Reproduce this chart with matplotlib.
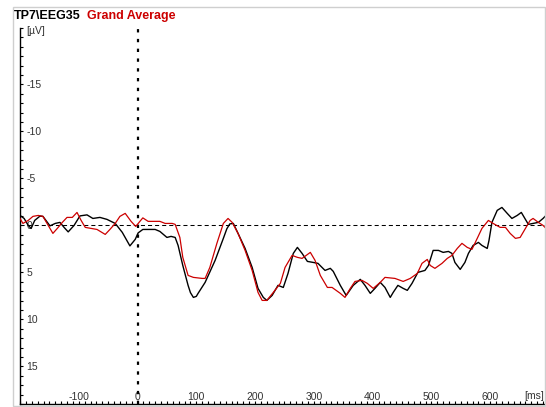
import matplotlib
matplotlib.use("Agg")
import matplotlib.pyplot as plt
from matplotlib.patches import Rectangle
from matplotlib.ticker import MultipleLocator, FixedLocator

plt.rcParams["font.family"] = ["Liberation Sans", "DejaVu Sans"]
plt.rcParams["axes.unicode_minus"] = False

# ==========================================================
# Datos (ms, µV)
# ==========================================================

channel = "TP7\\EEG35"
condition = "Grand Average"

black_ms = [-200, -193, -186, -181, -175, -166, -161, -149, -140, -132, -125, -118,
            -108, -98, -86, -76, -64, -52, -38, -26, -13, -4, 1, 9, 30, 38, 50, 57,
            64, 69, 77, 86, 90, 95, 100, 103, 115, 132, 146, 152, 157, 163, 171, 183,
            195, 205, 214, 220, 229, 239, 248, 256, 265, 272, 280, 289, 299, 307,
            319, 328, 333, 345, 355, 367, 379, 387, 396, 404, 413, 421, 430, 435,
            443, 452, 459, 467, 477, 489, 495, 503, 512, 520, 529, 535, 540, 549,
            557, 563, 571, 580, 586, 595, 598, 603, 612, 620, 629, 637, 646, 653,
            658, 665, 673, 682, 690, 695]
black_uv = [-1.06, -0.74, 0.0, 0.32, -0.53, -0.99, -0.96, 0.05, -0.21, -0.32, 0.21, 0.69,
            0.0, -1.01, -1.12, -0.74, -0.85, -0.64, -0.21, 0.74, 2.18, 1.49, 0.80, 0.43,
            0.43, 0.64, 1.28, 1.17, 1.28, 2.13, 4.26, 6.38, 7.15, 7.66, 7.55, 7.23,
            6.06, 3.72, 1.38, 0.35, -0.16, -0.21, 0.85, 2.45, 4.47, 6.70, 7.66, 7.98,
            7.45, 6.38, 6.60, 5.11, 2.98, 2.34, 2.98, 3.83, 3.94, 4.04, 4.79, 4.57,
            4.89, 6.38, 7.45, 6.38, 5.74, 6.38, 7.23, 6.70, 6.06, 6.60, 7.66, 7.13,
            6.38, 6.70, 6.91, 6.17, 5.00, 4.79, 4.26, 2.66, 2.66, 2.87, 2.77, 2.98,
            3.94, 4.68, 3.94, 2.98, 2.13, 1.81, 2.13, 2.45, 1.60, -0.32, -1.60,
            -1.91, -1.28, -0.74, -1.06, -1.38, -0.85, -0.11, -0.21, -0.32, -0.74,
            -1.06]

red_ms = [-200, -195, -186, -178, -169, -161, -152, -144, -135, -128, -120, -111,
          -103, -96, -89, -69, -55, -47, -38, -30, -21, -11, -3, 4, 9, 18, 26, 38,
          47, 59, 64, 72, 77, 86, 95, 110, 115, 123, 135, 146, 154, 161, 171, 183,
          195, 205, 212, 220, 231, 243, 251, 263, 272, 280, 294, 302, 311, 323,
          331, 345, 353, 362, 370, 382, 391, 401, 413, 421, 438, 452, 464, 476,
          484, 493, 498, 506, 518, 527, 535, 544, 552, 561, 569, 578, 586, 597,
          605, 617, 626, 634, 643, 651, 660, 668, 673, 682, 690, 695]
red_uv = [-0.74, -0.21, -0.53, -0.96, -1.06, -0.96, 0.0, 0.85, 0.21, -0.32, -0.85, -0.85,
          -1.38, -0.53, 0.21, 0.43, 0.96, 0.43, -0.21, -0.96, -1.28, -0.43, 0.11,
          -0.43, -0.80, -0.43, -0.43, -0.43, -0.21, -0.21, -0.11, 1.28, 3.40, 5.32,
          5.53, 5.64, 5.64, 4.47, 1.91, -0.21, -0.74, -0.32, 0.85, 2.66, 4.79, 7.13,
          7.98, 7.98, 7.13, 6.17, 4.47, 3.19, 3.40, 3.51, 2.87, 3.72, 5.32, 6.60,
          6.60, 7.23, 7.66, 6.70, 5.96, 5.85, 6.17, 6.70, 6.06, 5.53, 5.64, 5.96,
          5.64, 5.11, 4.04, 3.62, 4.26, 4.57, 4.04, 3.51, 3.19, 2.45, 1.91, 2.34,
          2.55, 1.38, 0.32, -0.53, -0.21, 0.21, 0.21, 0.85, 1.38, 1.28, 0.32, -0.53,
          -0.74, -0.32, 0.0, 0.32]

x_ticks = [-100, 0, 100, 200, 300, 400, 500, 600]
y_ticks = [-15, -10, -5, 0, 5, 10, 15]

# ==========================================================
# Figura
# ==========================================================

fig = plt.figure(figsize=(5.46, 4.07), dpi=100)
ax = fig.add_axes([20 / 546, 3 / 407, 526 / 546, 376 / 407])

# marco gris
fig.patches.append(
    Rectangle((13 / 546, 1 / 407), 532 / 546, 399 / 407,
              fill=False, edgecolor="#cfcfcf", linewidth=1,
              transform=fig.transFigure)
)

ax.plot(black_ms, black_uv, color="black", linewidth=1.0, zorder=3,
        solid_joinstyle="round")
ax.plot(red_ms, red_uv, color="#cc0000", linewidth=0.9, zorder=4,
        solid_joinstyle="round")

ax.axhline(0, color="black", linewidth=0.75, dashes=(3.9, 2.9), zorder=2)
ax.axvline(0, color="black", linewidth=1.6, dashes=(1.5, 2.9), zorder=2)

ax.set_xlim(-200, 695)
ax.set_ylim(19, -21)

for side in ["top", "right"]:
    ax.spines[side].set_visible(False)
ax.spines["left"].set_linewidth(1)
ax.spines["bottom"].set_linewidth(1)

ax.xaxis.set_major_locator(FixedLocator(x_ticks))
ax.xaxis.set_minor_locator(MultipleLocator(10))
ax.yaxis.set_major_locator(FixedLocator(y_ticks))
ax.yaxis.set_minor_locator(MultipleLocator(1))

ax.tick_params(axis="both", which="both", direction="in", length=2.5,
               width=0.8, labelsize=7.5, labelcolor="#333333")
ax.tick_params(axis="y", which="major", pad=-4.5)
ax.tick_params(axis="x", which="major", pad=-1.5)

for lab in ax.get_yticklabels():
    lab.set_horizontalalignment("left")
for lab in ax.get_xticklabels():
    lab.set_verticalalignment("bottom")

ax.text(0.012, 1.004, "[µV]", transform=ax.transAxes, fontsize=7.5,
        color="#333333", va="top", ha="left")
ax.text(0.997, 0.008, "[ms]", transform=ax.transAxes, fontsize=7.5,
        color="#333333", va="bottom", ha="right")

t1 = fig.text(14 / 546, 1 - 19 / 407, channel, fontsize=9,
              fontweight="bold", color="black", va="baseline")
ax.annotate(condition, xy=(1, 0), xycoords=t1, xytext=(4.3, 0),
            textcoords="offset points", fontsize=9,
            fontweight="bold", color="#cc0000", va="bottom", ha="left",
            annotation_clip=False)

fig.savefig("out.png", dpi=100)
